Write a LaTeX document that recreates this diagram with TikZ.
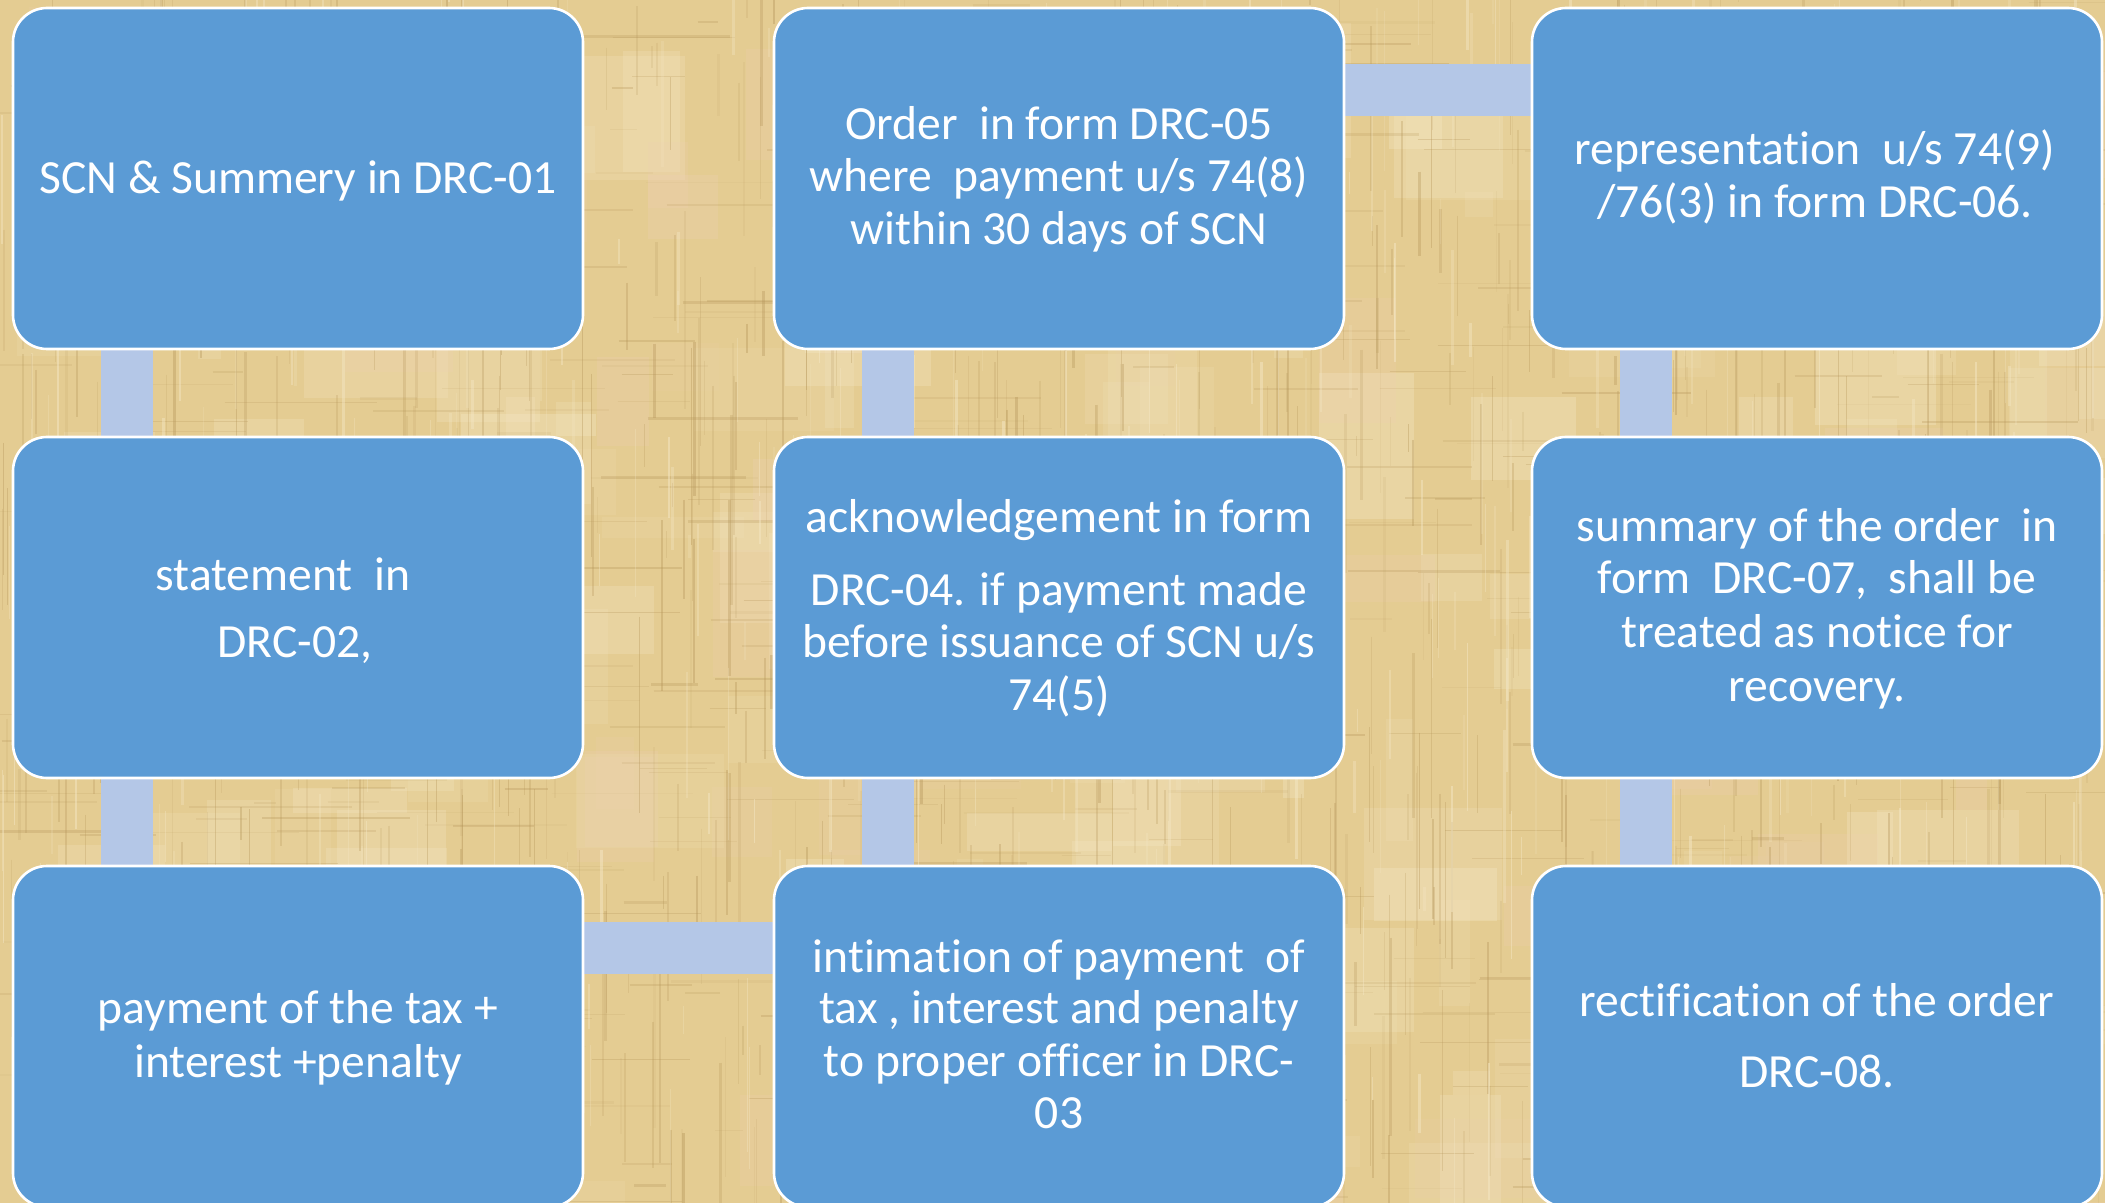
\documentclass[tikz,border=0pt]{standalone}
\usepackage{fontspec}
\setmainfont{Carlito}[Ligatures=NoCommon]
\usetikzlibrary{calc}
\definecolor{boxblue}{RGB}{91,155,213}
\definecolor{linkblue}{RGB}{180,199,231}
\definecolor{paperbase}{RGB}{228,204,146}
\definecolor{paperdark}{RGB}{180,148,88}
\definecolor{paperlight}{RGB}{245,232,198}
\definecolor{paperpink}{RGB}{238,208,180}
\pgfdeclarelayer{paper}
\pgfdeclarelayer{links}
\pgfsetlayers{paper,links,main}
\tikzset{
  stepbox/.style={draw=white, line width=1.3pt, fill=boxblue, rounded corners=17pt,
    minimum width=285pt, minimum height=170.5pt, inner sep=0pt},
  boxtext/.style={text=white, font=\fontsize{23.8pt}{26pt}\selectfont, anchor=base, inner sep=0pt},
  link/.style={draw=linkblue, line width=26pt}
}
\begin{document}
\begin{tikzpicture}[x=0.5pt,y=-0.5pt]
\clip (0,0) rectangle (2105,1203);
\begin{pgfonlayer}{paper}
\fill[paperbase] (0,0) rectangle (2105,1203);
\pgfmathsetseed{42}
\foreach \i in {1,...,160}{
  \pgfmathsetmacro\px{rnd*2105}\pgfmathsetmacro\py{rnd*1203}
  \pgfmathsetmacro\pw{20+rnd*130}\pgfmathsetmacro\ph{20+rnd*130}
  \pgfmathsetmacro\po{0.12+0.22*rnd}
  \fill[paperlight,opacity=\po] (\px,\py) rectangle ++(\pw,\ph);
}
\foreach \i in {1,...,70}{
  \pgfmathsetmacro\px{rnd*2105}\pgfmathsetmacro\py{rnd*1203}
  \pgfmathsetmacro\pw{20+rnd*110}\pgfmathsetmacro\ph{20+rnd*110}
  \pgfmathsetmacro\po{0.10+0.2*rnd}
  \fill[paperpink,opacity=\po] (\px,\py) rectangle ++(\pw,\ph);
}
\foreach \i in {1,...,900}{
  \pgfmathsetmacro\px{rnd*2105}\pgfmathsetmacro\py{rnd*1203-60}
  \pgfmathsetmacro\pl{20+rnd*180}\pgfmathsetmacro\lw{0.3+rnd*1.1}
  \pgfmathsetmacro\po{0.08+0.3*rnd}
  \draw[paperdark,opacity=\po,line width=\lw pt] (\px,\py) -- ++(0,\pl);
}
\foreach \i in {1,...,500}{
  \pgfmathsetmacro\px{rnd*2105-60}\pgfmathsetmacro\py{rnd*1203}
  \pgfmathsetmacro\pl{20+rnd*150}\pgfmathsetmacro\lw{0.3+rnd*1.0}
  \pgfmathsetmacro\po{0.06+0.25*rnd}
  \draw[paperdark,opacity=\po,line width=\lw pt] (\px,\py) -- ++(\pl,0);
}
\foreach \i in {1,...,450}{
  \pgfmathsetmacro\px{rnd*2105}\pgfmathsetmacro\py{rnd*1203-60}
  \pgfmathsetmacro\pl{20+rnd*160}\pgfmathsetmacro\lw{0.3+rnd*1.2}
  \pgfmathsetmacro\po{0.15+0.35*rnd}
  \draw[paperlight,opacity=\po,line width=\lw pt] (\px,\py) -- ++(0,\pl);
}
\end{pgfonlayer}

% boxes
\node[stepbox] (s1) at (298,178.5) {};
\node[stepbox] (s2) at (298,607.5) {};
\node[stepbox] (s3) at (298,1036.5) {};
\node[stepbox] (s4) at (1059,178.5) {};
\node[stepbox] (s5) at (1059,607.5) {};
\node[stepbox] (s6) at (1059,1036.5) {};
\node[stepbox] (s7) at (1817,178.5) {};
\node[stepbox] (s8) at (1817,607.5) {};
\node[stepbox] (s9) at (1817,1036.5) {};

% connectors
\begin{pgfonlayer}{links}
\draw[link] ($(s1.south west)+(115,0)$) -- ($(s2.north west)+(115,0)$);
\draw[link] ($(s2.south west)+(115,0)$) -- ($(s3.north west)+(115,0)$);
\draw[link] ($(s4.south west)+(115,0)$) -- ($(s5.north west)+(115,0)$);
\draw[link] ($(s5.south west)+(115,0)$) -- ($(s6.north west)+(115,0)$);
\draw[link] ($(s7.south west)+(115,0)$) -- ($(s8.north west)+(115,0)$);
\draw[link] ($(s8.south west)+(115,0)$) -- ($(s9.north west)+(115,0)$);
\draw[link] ($(s3.north east)+(0,83)$) -- ($(s6.north west)+(0,83)$);
\draw[link] ($(s4.north east)+(0,83)$) -- ($(s7.north west)+(0,83)$);
\end{pgfonlayer}

% texts
\node[boxtext] (t1) at (298,194) {SCN \& Summery in DRC-01};

\node[boxtext] (t2a) at (283,590) {statement~ in};
\node[boxtext] (t2b) at (295,657) {DRC-02,};

\node[boxtext] (t3a) at (298,1023) {payment of the tax +};
\node[boxtext] (t3b) at (298,1077) {interest +penalty};

\node[boxtext] (t4a) at (1059,140) {Order~ in form DRC-05};
\node[boxtext] (t4b) at (1059,192) {where~ payment u/s 74(8)};
\node[boxtext] (t4c) at (1059,245) {within 30 days of SCN};

\node[boxtext] (t5a) at (1059,532) {acknowledgement in form};
\node[boxtext] (t5b) at (1059,605) {DRC-04. if payment made};
\node[boxtext] (t5c) at (1059,657) {before issuance of SCN u/s};
\node[boxtext] (t5d) at (1059,710) {74(5)};

\node[boxtext] (t6a) at (1059,972) {intimation of payment~ of};
\node[boxtext] (t6b) at (1059,1023) {tax , interest and penalty};
\node[boxtext] (t6c) at (1059,1076) {to proper officer in DRC-};
\node[boxtext] (t6d) at (1059,1128) {03};

\node[boxtext] (t7a) at (1815,165) {representation~ u/s 74(9)};
\node[boxtext] (t7b) at (1815,218) {/76(3) in form DRC-06.};

\node[boxtext] (t8a) at (1817,542) {summary of the order~ in};
\node[boxtext] (t8b) at (1817,594) {form~ DRC-07,~ shall be};
\node[boxtext] (t8c) at (1817,647) {treated as notice for};
\node[boxtext] (t8d) at (1817,701) {recovery.};

\node[boxtext] (t9a) at (1817,1016) {rectification of the order};
\node[boxtext] (t9b) at (1817,1087) {DRC-08.};
\end{tikzpicture}
\end{document}
